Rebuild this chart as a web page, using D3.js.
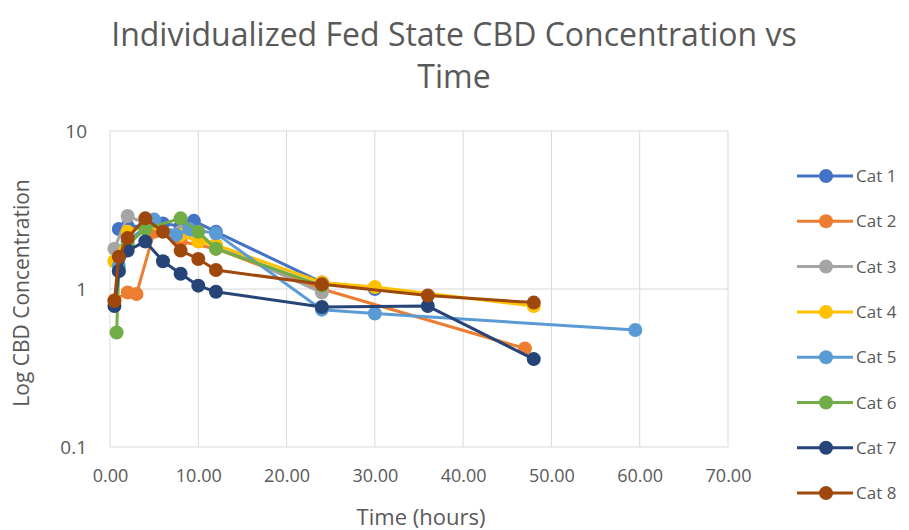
<!DOCTYPE html>
<html><head><meta charset="utf-8">
<script src="https://cdn.jsdelivr.net/npm/d3@7"></script>
<style>body{margin:0;background:#fff;}svg{display:block;}</style>
</head><body>
<svg id="c" width="909" height="530"></svg>
<script>
const seriesNames = ["Cat 1","Cat 2","Cat 3","Cat 4","Cat 5","Cat 6","Cat 7","Cat 8"];
const colors = ["#4472C4","#ED7D31","#A5A5A5","#FFC000","#5B9BD5","#70AD47","#264478","#9E480E"];
const cat1 = [[1,2.4],[2,2.5],[4,2.5],[6,2.6],[8,2.5],[9.5,2.7],[12,2.3],[24,1.1],[30,1.0]];
const cat2 = [[0.5,0.85],[2,0.95],[3,0.93],[5,2.3],[8,2.0],[12,1.8],[24,1.0],[47,0.42]];
const cat3 = [[0.5,1.8],[2,2.9],[4,2.6],[8,2.3],[12,1.9],[24,0.95]];
const cat4 = [[0.5,1.5],[2,2.3],[4,2.5],[8,2.2],[10,2.0],[12,1.9],[24,1.1],[30,1.03],[48,0.78]];
const cat5 = [[1,1.4],[2,2.0],[5,2.75],[7.5,2.2],[9,2.4],[12,2.25],[24,0.74],[30,0.70],[59.5,0.55]];
const cat6 = [[0.75,0.53],[1,1.3],[2,1.9],[4,2.4],[8,2.8],[10,2.3],[12,1.8],[24,1.05]];
const cat7 = [[0.5,0.78],[1,1.3],[2,1.75],[4,2.0],[6,1.5],[8,1.25],[10,1.05],[12,0.96],[24,0.77],[36,0.78],[48,0.36]];
const cat8 = [[0.5,0.84],[1,1.6],[2,2.1],[4,2.8],[6,2.3],[8,1.75],[10,1.55],[12,1.32],[24,1.07],[36,0.91],[48,0.82]];
const allSeries = [cat1,cat2,cat3,cat4,cat5,cat6,cat7,cat8];
const xTicks = [0,10,20,30,40,50,60,70];
const yTicks = [0.1,1,10];

const svg = d3.select("#c");
const font = "'Open Sans', 'Liberation Sans', sans-serif";
const x = d3.scaleLinear().domain([0,70]).range([110,728]);
const y = d3.scaleLog().domain([0.1,10]).range([447,131]);
const grid = "#d9d9d9", txt = "#595959";

// gridlines
svg.append("g").selectAll("line").data(xTicks).join("line")
  .attr("x1",d=>x(d)).attr("x2",d=>x(d)).attr("y1",y(10)).attr("y2",y(0.1))
  .attr("stroke",grid).attr("stroke-width",1);
svg.append("g").selectAll("line").data(yTicks).join("line")
  .attr("x1",x(0)).attr("x2",x(70)).attr("y1",d=>y(d)).attr("y2",d=>y(d))
  .attr("stroke",grid).attr("stroke-width",1);

// axes labels
const xa = d3.axisBottom(x).tickValues(xTicks).tickFormat(d3.format(".2f")).tickSize(0).tickPadding(22);
svg.append("g").attr("transform",`translate(0,${y(0.1)})`).call(xa)
  .call(g=>g.select(".domain").remove())
  .selectAll("text").attr("fill",txt).style("font-family",font).style("font-size","18px");
const ya = d3.axisLeft(y).tickValues(yTicks).tickFormat(d=>String(d)).tickSize(0).tickPadding(23);
svg.append("g").attr("transform",`translate(${x(0)},0)`).call(ya)
  .call(g=>g.select(".domain").remove())
  .selectAll("text").attr("fill",txt).style("font-family",font).style("font-size","19px");

// axis titles
svg.append("text").attr("x",421).attr("y",525).attr("text-anchor","middle")
  .attr("fill",txt).style("font-family",font).style("font-size","22px").text("Time (hours)");
svg.append("text").attr("transform","translate(29,293) rotate(-90)").attr("text-anchor","middle")
  .attr("fill",txt).style("font-family",font).style("font-size","21px").text("Log CBD Concentration");

// title
svg.append("text").attr("x",454).attr("y",46).attr("text-anchor","middle")
  .attr("fill",txt).style("font-family",font).style("font-size","32px")
  .text("Individualized Fed State CBD Concentration vs");
svg.append("text").attr("x",454).attr("y",88).attr("text-anchor","middle")
  .attr("fill",txt).style("font-family",font).style("font-size","32px").text("Time");

// series
const line = d3.line().x(d=>x(d[0])).y(d=>y(d[1]));
allSeries.forEach((s,i)=>{
  const g = svg.append("g");
  g.append("path").datum(s).attr("d",line).attr("fill","none")
    .attr("stroke",colors[i]).attr("stroke-width",3).attr("stroke-linejoin","round");
  g.selectAll("circle").data(s).join("circle")
    .attr("cx",d=>x(d[0])).attr("cy",d=>y(d[1])).attr("r",7).attr("fill",colors[i]);
});

// legend
const lg = svg.append("g");
seriesNames.forEach((n,i)=>{
  const yy = 176 + i*45.3;
  lg.append("line").attr("x1",797).attr("x2",853).attr("y1",yy).attr("y2",yy)
    .attr("stroke",colors[i]).attr("stroke-width",3);
  lg.append("circle").attr("cx",826).attr("cy",yy).attr("r",7).attr("fill",colors[i]);
  lg.append("text").attr("x",856).attr("y",yy+6).attr("fill",txt)
    .style("font-family",font).style("font-size","17px").text(n);
});
</script>
</body></html>
